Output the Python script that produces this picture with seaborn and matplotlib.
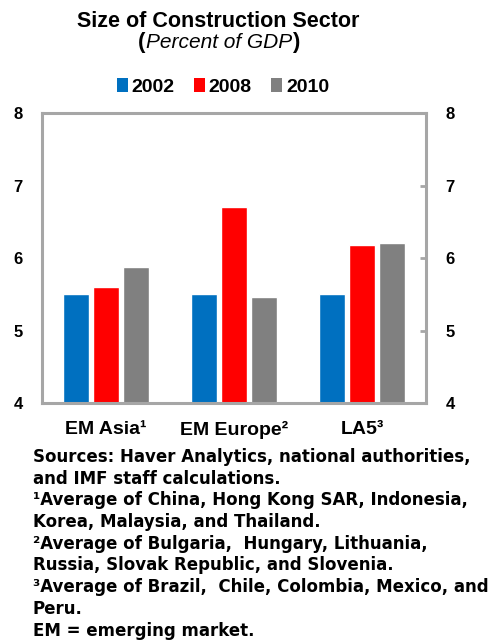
import matplotlib
matplotlib.use("Agg")
import matplotlib.pyplot as plt
import seaborn as sns
import pandas as pd
from matplotlib.patches import Patch

regions = ["EM Asia\u00b9", "EM Europe\u00b2", "LA5\u00b3"]
years = ["2002", "2008", "2010"]
share_2002 = [5.51, 5.51, 5.51]
share_2008 = [5.60, 6.71, 6.18]
share_2010 = [5.88, 5.46, 6.21]
yticks = [4, 5, 6, 7, 8]
colors = ["#0070C0", "#FF0000", "#808080"]

rows = []
for yr, vals in zip(years, [share_2002, share_2008, share_2010]):
    for reg, v in zip(regions, vals):
        rows.append({"region": reg, "year": yr, "value": v})
df = pd.DataFrame(rows)

sns.set_theme(style="white")
plt.rcParams["font.family"] = ["Liberation Sans", "DejaVu Sans"]
plt.rcParams["font.weight"] = "bold"
plt.rcParams["text.color"] = "black"
plt.rcParams["xtick.labelcolor"] = "black"
plt.rcParams["ytick.labelcolor"] = "black"

fig = plt.figure(figsize=(4.97, 6.4), dpi=100)
ax = fig.add_axes([0.0845, 0.370, 0.773, 0.453])

sns.barplot(data=df, x="region", y="value", hue="year", order=regions,
            hue_order=years, palette=colors, width=0.7, gap=0.13,
            saturation=1, ax=ax, legend=False)

ax.set_ylim(4, 8)
ax.set_xlim(-0.5, 2.5)
ax.set_xlabel("")
ax.set_ylabel("")
ax.set_yticks(yticks)
ax.set_yticklabels([str(t) for t in yticks], fontsize=12, fontweight="bold")
ax.tick_params(axis="y", direction="in", length=4, width=2, color="#A6A6A6",
               labelcolor="black", pad=14, labelright=True, right=True)
ax.tick_params(axis="x", which="major", length=0, pad=13, labelcolor="black")
ax.set_xticks([-0.5, 0.5, 1.5, 2.5], minor=True)
ax.tick_params(axis="x", which="minor", direction="out", length=4, width=2,
               color="#A6A6A6")
for lbl in ax.get_xticklabels():
    lbl.set_fontsize(14)
    lbl.set_fontweight("bold")
for s in ax.spines.values():
    s.set_visible(True)
    s.set_color("#A6A6A6")
    s.set_linewidth(2.2)

# Title and subtitle
fig.text(0.44, 0.966, "Size of Construction Sector", ha="center",
         va="center", fontsize=15.5, fontweight="bold", color="black")
mid = fig.text(0.44, 0.934, "Percent of GDP", ha="center", va="center",
               fontsize=15, fontstyle="italic", fontweight="normal",
               color="black")
ax.annotate("(", xy=(0, 0.5), xycoords=mid, ha="right", va="center",
            fontsize=16, fontweight="bold", color="black",
            annotation_clip=False)
ax.annotate(")", xy=(1, 0.5), xycoords=mid, ha="left", va="center",
            fontsize=16, fontweight="bold", color="black",
            annotation_clip=False)

handles = [Patch(facecolor=c, edgecolor="none") for c in colors]
fig.legend(handles, years, loc="center", bbox_to_anchor=(0.449, 0.864),
           ncol=3, frameon=False, handlelength=0.55, handleheight=0.7,
           handletextpad=0.2, columnspacing=1.0,
           prop={"size": 14, "weight": "bold"}, labelcolor="black")

notes = [
    "Sources: Haver Analytics, national authorities,",
    "and IMF staff calculations.",
    "\u00b9Average of China, Hong Kong SAR, Indonesia,",
    "Korea, Malaysia, and Thailand.",
    "\u00b2Average of Bulgaria,  Hungary, Lithuania,",
    "Russia, Slovak Republic, and Slovenia.",
    "\u00b3Average of Brazil,  Chile, Colombia, Mexico, and",
    "Peru.",
    "EM = emerging market.",
]
y0 = 457
for i, line in enumerate(notes):
    fig.text(33 / 497, 1 - (y0 + i * 21.7) / 640, line, ha="left",
             va="center", fontsize=12, fontweight="bold", color="black",
             family=["DejaVu Sans"])

fig.savefig("out.png", dpi=100)
